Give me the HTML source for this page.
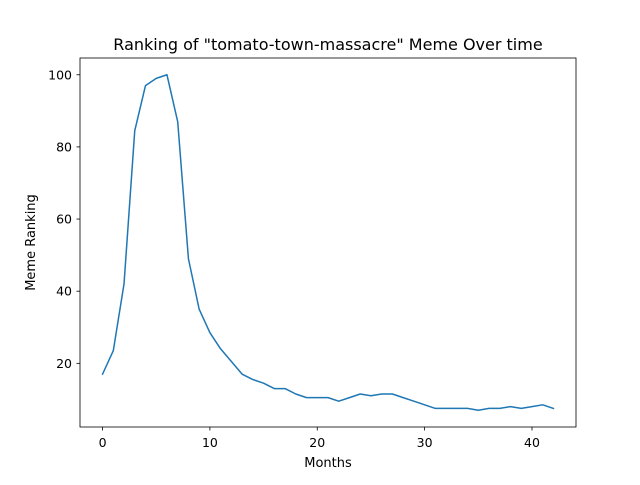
<!DOCTYPE html>
<html><head><meta charset="utf-8"><style>
body{margin:0;background:#fff;font-family:"Liberation Sans","DejaVu Sans",sans-serif;}
svg text{font-family:"DejaVu Sans","Liberation Sans",sans-serif;}
</style></head><body>
<svg id="chart" width="640" height="480" xmlns="http://www.w3.org/2000/svg">
<rect width="640" height="480" fill="#fff"/>
<text x="328" y="50" font-size="16" text-anchor="middle">Ranking of "tomato-town-massacre" Meme Over time</text>
<text x="328" y="467" font-size="13" text-anchor="middle">Months</text>
<text x="35" y="242.5" font-size="13" text-anchor="middle" transform="rotate(-90 35 242.5)">Meme Ranking</text>
<g id="ticks"></g>
<polyline id="series" fill="none" stroke="#1f77b4" stroke-width="1.5" stroke-linejoin="round" stroke-linecap="square"/>
<rect x="80" y="58" width="496" height="369" fill="none" stroke="#000" stroke-width="0.8"/>
</svg>
<script>
const months=[0,1,2,3,4,5,6,7,8,9,10,11,12,13,14,15,16,17,18,19,20,21,22,23,24,25,26,27,28,29,30,31,32,33,34,35,36,37,38,39,40,41,42];
const ranking=[17,23.5,42,84.5,97,99,100,87,49,35,28.5,24,20.5,17,15.5,14.5,13,13,11.5,10.5,10.5,10.5,9.5,10.5,11.5,11,11.5,11.5,10.5,9.5,8.5,7.5,7.5,7.5,7.5,7,7.5,7.5,8,7.5,8,8.5,7.5];
const xTicks=[0,10,20,30,40];
const yTicks=[20,40,60,80,100];
const L=80,R=576,T=58,B=427;
const xmin=Math.min(...months),xmax=Math.max(...months),xm=(xmax-xmin)*0.05;
const ymin=Math.min(...ranking),ymax=Math.max(...ranking),ym=(ymax-ymin)*0.05;
const xs=v=>L+(v-(xmin-xm))/((xmax+xm)-(xmin-xm))*(R-L);
const ys=v=>B-(v-(ymin-ym))/((ymax+ym)-(ymin-ym))*(B-T);
const NS="http://www.w3.org/2000/svg";
const g=document.getElementById('ticks');
function mk(t,a){const e=document.createElementNS(NS,t);for(const k in a)e.setAttribute(k,a[k]);g.appendChild(e);return e;}
xTicks.forEach(v=>{const x=xs(v);
const l=mk('line',{x1:x,x2:x,y1:B,y2:B+3.5,stroke:'#000','stroke-width':0.8});


const t=mk('text',{x:x,y:B+20,'font-size':12.5,'text-anchor':'middle'});t.textContent=v;

});
yTicks.forEach(v=>{const y=ys(v);
const l=mk('line',{x1:L-3.5,x2:L,y1:y,y2:y,stroke:'#000','stroke-width':0.8});


const t=mk('text',{x:L-8,y:y+4.5,'font-size':12.5,'text-anchor':'end'});t.textContent=v;

});
document.getElementById('series').setAttribute('points',months.map((m,i)=>xs(m)+','+ys(ranking[i])).join(' '));
</script>
</body></html>
